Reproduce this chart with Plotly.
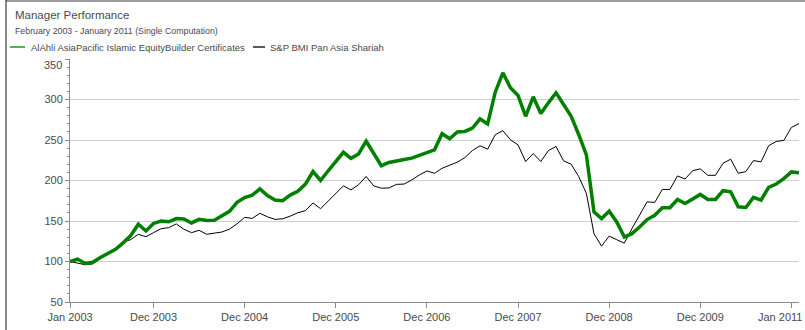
import plotly.graph_objects as go

# Monthly index levels, base 100 at the start of the period (97 month-ends)
alahli_fund = [
    100, 103, 97.5, 99, 105, 110, 115, 123, 132, 146, 137.7, 147,
    150, 149, 153, 152.6, 147.6, 152, 150.5, 151, 156, 162, 173, 178.9,
    182, 189.7, 181.4, 176, 175, 182, 186.8, 195.5, 211, 200, 212, 223.6,
    234.8, 227.4, 232.8, 248.5, 232.8, 218.3, 222.3, 224.6, 225.9, 227.6, 230.9, 234.6,
    237.9, 257.8, 251.6, 259.9, 260.6, 264.8, 276, 269.8, 309, 333, 314.5, 305,
    279.3, 303.3, 282.6, 295.9, 308.3, 293.8, 279.3, 256.5, 231.7, 161.3, 153, 162.1,
    148.8, 130.2, 134.4, 142.6, 151.8, 157.1, 166.3, 166.3, 176.6, 171.6, 177.8, 182.8,
    176.6, 176.6, 187.4, 186.1, 167.5, 166.7, 179.1, 175.8, 191.5, 195.7, 202.3, 210.6,
    209.7,
]
sp_bmi_shariah = [
    100, 98.3, 96, 97, 104.5, 110, 115, 124, 127, 133.6, 130.6, 135.6,
    140.5, 141.8, 146.4, 139.8, 135.6, 138.5, 133.6, 135, 136.4, 140, 146.5, 154.5,
    153.2, 159.5, 155.2, 152, 152.7, 156, 160.2, 162.7, 172.3, 165.2, 175, 184.3,
    193.4, 188.4, 194.7, 205, 193.4, 190.5, 190.8, 195.2, 195.6, 200.6, 206.8, 211.8,
    208.9, 215.1, 218.4, 222.6, 228.3, 237, 242.9, 238.7, 256.5, 261.5, 250.3, 244,
    223.4, 233.3, 223.4, 237, 242, 224.2, 220.1, 204.7, 184, 134.4, 119, 131.4,
    126.9, 122.7, 140.6, 157, 173.7, 172.9, 189, 189, 205.6, 201.9, 212.2, 214.3,
    206.4, 206.4, 221.3, 226.3, 208.9, 211, 224.6, 223, 242.9, 248.2, 249.5, 265.6,
    270.2,
]
series_names = [
    "AlAhli AsiaPacific Islamic EquityBuilder Certificates",
    "S&P BMI Pan Asia Shariah",
]
tick_months = [0, 11, 23, 35, 47, 59, 71, 83, 95]
tick_labels = [
    "Jan 2003", "Dec 2003", "Dec 2004", "Dec 2005", "Dec 2006",
    "Dec 2007", "Dec 2008", "Dec 2009", "Jan 2011",
]
y_ticks = [50, 100, 150, 200, 250, 300, 350]

months = list(range(len(alahli_fund)))

W, H = 805, 330
ML, MR, MT, MB = 70, 6, 59, 28
FONT = "Liberation Sans, Arial, sans-serif"
TEXT = "#4a4a4a"
GREEN = "#008000"

fig = go.Figure()
fig.add_trace(go.Scatter(
    x=months, y=sp_bmi_shariah, mode="lines", name=series_names[1],
    line=dict(color="#000000", width=1), hoverinfo="skip",
))
fig.add_trace(go.Scatter(
    x=months, y=alahli_fund, mode="lines", name=series_names[0],
    line=dict(color=GREEN, width=3.5), hoverinfo="skip",
))

pw = W - ML - MR
ph = H - MT - MB


def px_x(p):
    return (p - ML) / pw


def px_y(p):
    return (H - MB - p) / ph


# Outer frame (left and top edges)
fig.add_shape(type="line", xref="paper", yref="paper",
              x0=px_x(6), x1=px_x(6), y0=px_y(0), y1=px_y(H),
              line=dict(color="#3a3a3a", width=1.2))
fig.add_shape(type="line", xref="paper", yref="paper",
              x0=px_x(6), x1=px_x(W), y0=px_y(1), y1=px_y(1),
              line=dict(color="#3a3a3a", width=1.2))

# Heading
fig.add_annotation(text="Manager Performance", xref="paper", yref="paper",
                   x=px_x(13), y=px_y(15), xanchor="left", yanchor="middle",
                   showarrow=False, font=dict(family=FONT, size=11.5, color=TEXT))
fig.add_annotation(text="February 2003 - January 2011 (Single Computation)",
                   xref="paper", yref="paper",
                   x=px_x(13), y=px_y(31), xanchor="left", yanchor="middle",
                   showarrow=False, font=dict(family=FONT, size=8.8, color=TEXT))

# Legend row
legend_items = [(10, 25, 29, GREEN, series_names[0]),
                (253, 265, 268, "#000000", series_names[1])]
for x0, x1, tx, col, name in legend_items:
    fig.add_shape(type="line", xref="paper", yref="paper",
                  x0=px_x(x0), x1=px_x(x1), y0=px_y(47), y1=px_y(47),
                  line=dict(color=col, width=1.3))
    fig.add_annotation(text=name, xref="paper", yref="paper",
                       x=px_x(tx), y=px_y(47), xanchor="left", yanchor="middle",
                       showarrow=False, font=dict(family=FONT, size=9.5, color=TEXT))

# Top y label sits a little below its gridline
y_labels = [str(v) for v in y_ticks]
y_labels[-1] = ""
fig.add_annotation(text=str(y_ticks[-1]), xref="paper", yref="y",
                   x=px_x(64), y=y_ticks[-1], yshift=-6,
                   xanchor="right", yanchor="middle", showarrow=False,
                   font=dict(family=FONT, size=11, color=TEXT))

# Last x label is pulled left so it stays inside the page
x_labels = list(tick_labels)
x_labels[-1] = ""
fig.add_annotation(text=tick_labels[-1], xref="paper", yref="paper",
                   x=px_x(804), y=px_y(317), xanchor="right", yanchor="middle",
                   showarrow=False, font=dict(family=FONT, size=11, color=TEXT))

fig.update_layout(
    width=W, height=H,
    margin=dict(l=ML, r=MR, t=MT, b=MB, pad=0, autoexpand=False),
    paper_bgcolor="white", plot_bgcolor="white",
    showlegend=False,
    font=dict(family=FONT, size=11, color=TEXT),
)
fig.update_xaxes(
    range=[0, 96], tickmode="array", tickvals=tick_months, ticktext=x_labels,
    showgrid=False, zeroline=False, automargin=False,
    showline=True, linecolor="#8a8a8a", linewidth=1,
    ticks="outside", ticklen=5, tickcolor="#8a8a8a",
    tickfont=dict(family=FONT, size=11, color=TEXT),
)
fig.update_yaxes(
    range=[50, 350], tickmode="array", tickvals=y_ticks, ticktext=y_labels,
    showgrid=True, gridcolor="#cfcfcf", gridwidth=1, zeroline=False, automargin=False,
    showline=True, linecolor="#8a8a8a", linewidth=1,
    ticks="outside", ticklen=4, tickcolor="#8a8a8a",
    tickfont=dict(family=FONT, size=11, color=TEXT),
    minor=dict(ticks="outside", ticklen=2, dtick=10, tickcolor="#8a8a8a", showgrid=False),
)

fig.write_html("out.html")
